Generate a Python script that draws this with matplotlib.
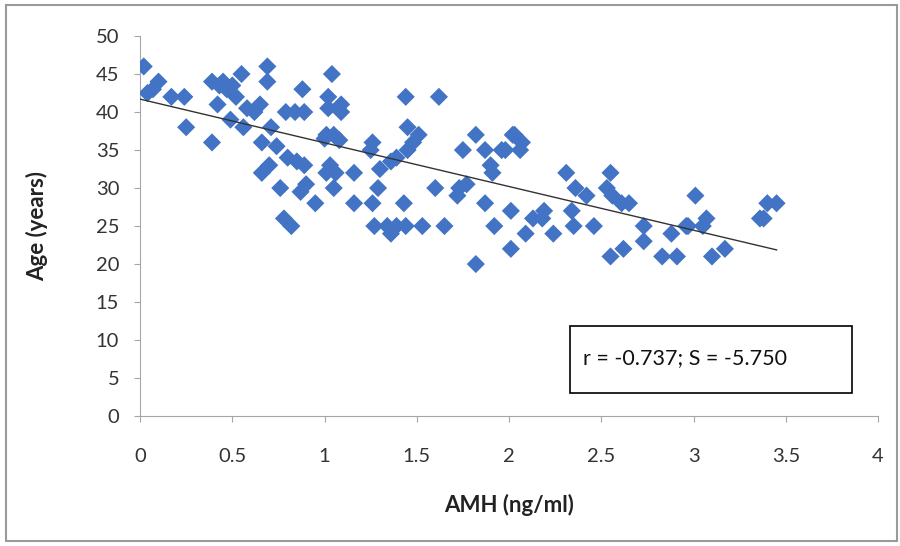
import matplotlib.pyplot as plt
from matplotlib.patches import Rectangle
import numpy as np

plt.rcParams['font.family'] = ['Lato', 'DejaVu Sans']

# AMH (ng/ml) vs age (years)
amh = [0.02, 0.10, 0.04, 0.07, 0.17, 0.24, 0.25, 0.39, 0.39, 0.43, 0.47, 0.52, 0.55, 0.69,
       0.69, 0.42, 0.49, 0.56, 0.58, 0.65, 0.71, 0.66, 0.79, 0.84, 0.89, 0.88, 0.74, 0.80,
       0.85, 0.89, 0.66, 0.70, 0.76, 0.90, 0.87, 0.95, 0.78, 0.82, 1.01, 1.01, 1.04, 1.02,
       1.02, 1.09, 1.09, 1.00, 1.05, 1.08, 1.26, 1.25, 1.45, 1.51, 1.48, 1.45, 1.39, 1.36,
       1.30, 1.44, 1.62, 1.82, 1.75, 1.87, 1.96, 2.02, 1.90, 1.91, 1.03, 1.06, 1.16, 1.05,
       1.29, 1.60, 1.73, 1.77, 1.72, 1.16, 1.26, 1.43, 1.87, 2.01, 1.27, 1.34, 1.39, 1.44,
       1.36, 1.53, 1.65, 1.92, 2.01, 1.82, 2.03, 2.07, 1.98, 2.06, 2.31, 2.55, 2.36, 2.42,
       2.53, 2.56, 2.61, 2.65, 2.34, 2.13, 2.19, 2.18, 2.35, 2.46, 2.09, 2.24, 2.73, 2.73,
       2.88, 2.55, 2.62, 2.83, 2.91, 3.01, 2.96, 2.97, 3.07, 3.05, 3.10, 3.17, 3.36, 3.38,
       3.40, 3.45, 0.45, 0.50, 0.62]
age = [46, 44, 42.5, 43, 42, 42, 38, 36, 44, 43.5, 43, 42, 45, 46,
       44, 41, 39, 38, 40.5, 41, 38, 36, 40, 40, 40, 43, 35.5, 34,
       33.5, 33, 32, 33, 30, 30.5, 29.5, 28, 26, 25, 37, 32, 45, 42,
       40.5, 41, 40, 36.5, 37, 36.3, 36, 35, 38, 37, 36, 35, 34, 33.5,
       32.5, 42, 42, 37, 35, 35, 35, 37, 33, 32, 33, 32, 32, 30,
       30, 30, 30, 30.5, 29, 28, 28, 28, 28, 27, 25, 25, 25, 25,
       24, 25, 25, 25, 22, 20, 37, 36, 35, 35, 32, 32, 30, 29,
       30, 29, 28, 28, 27, 26, 27, 26, 25, 25, 24, 24, 25, 23,
       24, 21, 22, 21, 21, 29, 25, 25, 26, 25, 21, 22, 26, 26,
       28, 28, 44, 43.5, 40]

intercept = 41.7
slope = -5.75
fit_x = [0, 3.45]
stats_text = "r = -0.737; S = -5.750"

fig = plt.figure(figsize=(9, 5.46), dpi=100)
ax = fig.add_axes([0.1556, 0.238, 0.82, 0.696])

ax.scatter(amh, age, marker='D', s=85, color='#4273C4', edgecolors='none', zorder=3)
fx = np.array(fit_x)
ax.plot(fx, intercept + slope * fx, color='#333333', lw=1.0, zorder=4)

ax.set_xlim(0, 4)
ax.set_ylim(0, 50)
ax.set_xticks(np.arange(0, 4.01, 0.5))
ax.set_xticklabels(['0', '0.5', '1', '1.5', '2', '2.5', '3', '3.5', '4'])
ax.set_yticks(range(0, 51, 5))

for s in ['top', 'right']:
    ax.spines[s].set_visible(False)
for s in ['left', 'bottom']:
    ax.spines[s].set_color('#a6a6a6')
ax.tick_params(colors='#a6a6a6', labelcolor='#333333', labelsize=14.5, length=4, direction='out')
ax.tick_params(axis='x', pad=19)
ax.tick_params(axis='y', pad=11)

ax.set_xlabel('AMH (ng/ml)', fontsize=16, fontweight='bold', color='#222222', labelpad=21)
ax.set_ylabel('Age (years)', fontsize=16, fontweight='bold', color='#222222', labelpad=34)

# stats box
ax.add_patch(Rectangle((2.33, 3.0), 1.53, 8.8, fill=False, edgecolor='black', lw=1.2,
                       zorder=5, clip_on=False))
ax.text(2.4, 7.6, stats_text, fontsize=15.5, color='#111111', va='center', zorder=6)

# outer border of the chart
fig.patches.append(Rectangle((0.007, 0.01), 0.99, 0.98, transform=fig.transFigure,
                             fill=False, edgecolor='#9a9a9a', lw=1.5))

fig.savefig('out.png', dpi=100)
